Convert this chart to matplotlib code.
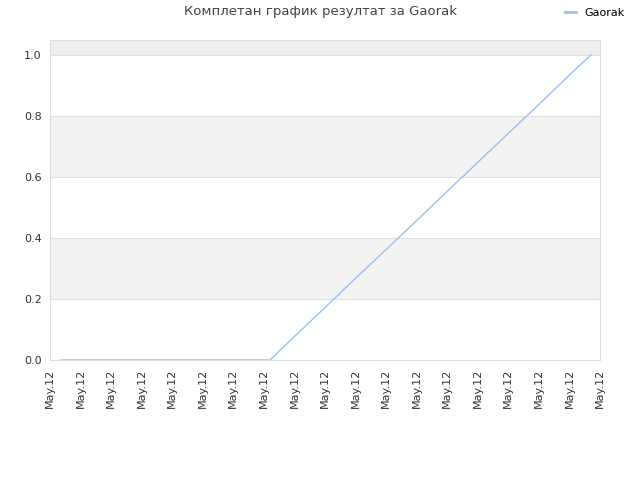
import matplotlib
matplotlib.use("Agg")
import matplotlib.pyplot as plt
from matplotlib.lines import Line2D

title = "Комплетан график резултат за Gaorak"
series_name = "Gaorak"
tick_labels = ["May.12"] * 19
tick_pos = list(range(19))

# series (x in tick units, y as completion fraction)
xs = [0.36, 2.0, 4.0, 6.0, 7.2, 8.0, 9.0, 10.0, 11.0, 12.0, 13.0, 14.0, 15.0, 16.0, 17.0, 17.7]
ys = [0.0, 0.0, 0.0, 0.0, 0.0, 0.077, 0.172, 0.268, 0.362, 0.457, 0.553, 0.648, 0.743, 0.838, 0.934, 1.0]

fig = plt.figure(figsize=(6.4, 4.8), dpi=100)
ax = fig.add_axes([50/640, 120/480, 550/640, 320/480])

ymax = 1.049
bands = [(0.2, 0.4, "#f3f3f3"), (0.6, 0.8, "#f3f3f3"), (1.0, ymax, "#eeeeee")]
for lo, hi, c in bands:
    ax.axhspan(lo, hi, color=c, zorder=0, lw=0)
for yv in [0.2, 0.4, 0.6, 0.8, 1.0]:
    ax.axhline(yv, color="#e0e0e0", lw=0.8, zorder=1)

ax.plot(xs, ys, color="#99c2f0", lw=1.0, zorder=3)

ax.set_xlim(0, 18)
ax.set_ylim(0, ymax)
ax.set_xticks(tick_pos)
ax.set_xticklabels(tick_labels, rotation=90, fontsize=8, color="#333333")
ax.set_yticks([0.0, 0.2, 0.4, 0.6, 0.8, 1.0])
ax.set_yticklabels(["0.0", "0.2", "0.4", "0.6", "0.8", "1.0"], fontsize=8, color="#333333")
ax.tick_params(length=0, pad=6)
for s in ax.spines.values():
    s.set_color("#dddddd")
    s.set_linewidth(0.8)

fig.text(0.5, 1 - 12/480, title, ha="center", va="center", fontsize=9.5, color="#444444")
fig.legend(handles=[Line2D([0], [0], color="#99c2f0", lw=2.0)], labels=[series_name],
           loc="center right", bbox_to_anchor=(1.0 - 5/640, 1 - 13/480), frameon=False,
           fontsize=8, handlelength=1.0, handletextpad=0.8)

fig.savefig("out.png", dpi=100)
